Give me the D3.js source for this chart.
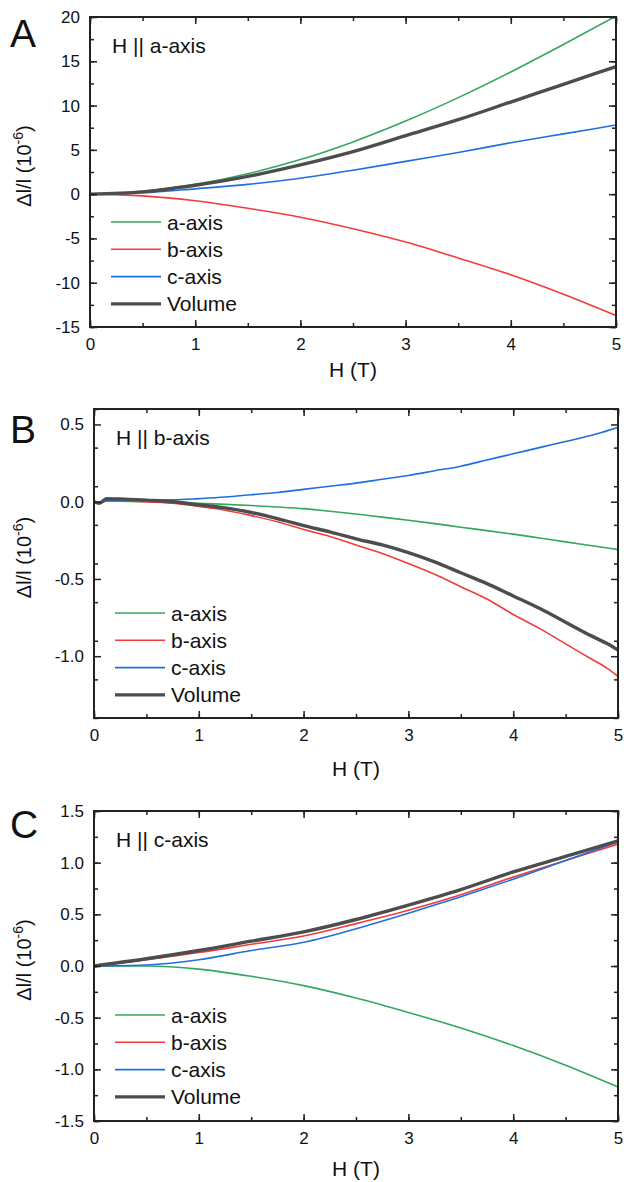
<!DOCTYPE html>
<html>
<head>
<meta charset="utf-8">
<script src="https://cdn.jsdelivr.net/npm/d3@7"></script>
<style>
  body { margin: 0; background: #fff; }
  svg text { font-family: "Liberation Sans", Arial, sans-serif; fill: #111; }
</style>
</head>
<body>
<div id="chart"></div>
<script>
// field values (T)
const fieldA = [0, 0.5, 1, 1.5, 2, 2.5, 3, 3.5, 4, 4.5, 5];

// Panel A: H || a-axis
const aAxisA = [0, 0.3, 1.1, 2.3, 3.9, 5.9, 8.25, 10.9, 13.8, 16.9, 20.1];
const bAxisA = [0, -0.2, -0.75, -1.6, -2.6, -3.9, -5.4, -7.2, -9.1, -11.3, -13.7];
const cAxisA = [0, 0.15, 0.6, 1.1, 1.8, 2.7, 3.7, 4.7, 5.8, 6.8, 7.8];
const volA = [0, 0.25, 1.0, 2.0, 3.3, 4.8, 6.6, 8.4, 10.4, 12.4, 14.4];

// Panel B: H || b-axis
const fieldB = [0, 0.05, 0.12, 0.25, 0.5, 0.75, 1, 1.25, 1.5, 1.75, 2, 2.25, 2.5, 2.75,
  3, 3.25, 3.5, 3.75, 4, 4.25, 4.5, 4.75, 4.9, 5];
const aAxisB = [0, -0.005, 0.005, 0.003, 0, -0.005, -0.01, -0.017, -0.025, -0.034, -0.045, -0.062, -0.08, -0.1,
  -0.12, -0.142, -0.165, -0.187, -0.21, -0.235, -0.26, -0.285, -0.3, -0.31];
const bAxisB = [0, -0.01, 0.005, 0.005, 0, -0.01, -0.03, -0.055, -0.09, -0.13, -0.18, -0.225, -0.28, -0.335,
  -0.4, -0.47, -0.55, -0.63, -0.73, -0.82, -0.92, -1.02, -1.08, -1.13];
const cAxisB = [0, -0.01, 0.01, 0.01, 0.01, 0.012, 0.02, 0.03, 0.045, 0.06, 0.08, 0.1, 0.12, 0.145,
  0.17, 0.2, 0.23, 0.27, 0.31, 0.35, 0.39, 0.43, 0.46, 0.48];
const volB = [0, -0.01, 0.02, 0.018, 0.01, 0, -0.02, -0.04, -0.07, -0.11, -0.155, -0.195, -0.24, -0.28,
  -0.33, -0.39, -0.46, -0.53, -0.61, -0.69, -0.78, -0.87, -0.92, -0.96];

// Panel C: H || c-axis
const fieldC = [0, 0.5, 1, 1.5, 2, 2.5, 3, 3.5, 4, 4.5, 5];
const aAxisC = [0, 0.0, -0.03, -0.1, -0.19, -0.31, -0.45, -0.6, -0.77, -0.96, -1.17];
const bAxisC = [0, 0.06, 0.13, 0.21, 0.29, 0.41, 0.54, 0.69, 0.86, 1.02, 1.18];
const cAxisC = [0, 0.01, 0.06, 0.15, 0.23, 0.36, 0.51, 0.67, 0.84, 1.02, 1.2];
const volC = [0, 0.07, 0.15, 0.24, 0.33, 0.45, 0.59, 0.74, 0.91, 1.06, 1.21];

const seriesNames = ["a-axis", "b-axis", "c-axis", "Volume"];
const seriesColors = ["#33a760", "#f03c3c", "#1f6fdf", "#4d4d4d"];
const seriesWidths = [1.6, 1.6, 1.6, 3.4];

const yTicksA = [-15, -10, -5, 0, 5, 10, 15, 20];
const yTicksB = [-1.0, -0.5, 0.0, 0.5];
const yTicksC = [-1.5, -1.0, -0.5, 0.0, 0.5, 1.0, 1.5];
const xTicks = [0, 1, 2, 3, 4, 5];

// plain hyphen for negative tick labels, like the original figure
const fmtInt = d => d3.format("d")(d).replace("\u2212", "-");
const fmtOne = d => d3.format(".1f")(d).replace("\u2212", "-");

const panels = [
  { letter: "A", note: "H || a-axis", x: fieldA, ys: [aAxisA, bAxisA, cAxisA, volA],
    left: 90, right: 616, top: 17, bottom: 327, ydom: [-15, 20], yticks: yTicksA, minor: 2.5, fmt: fmtInt,
    letterY: 47, legendY: 222, titleY: 377 },
  { letter: "B", note: "H || b-axis", x: fieldB, ys: [aAxisB, bAxisB, cAxisB, volB],
    left: 94, right: 618, top: 409, bottom: 718, ydom: [-1.4, 0.6], yticks: yTicksB, minor: 0.25, fmt: fmtOne,
    letterY: 443, legendY: 613, titleY: 776 },
  { letter: "C", note: "H || c-axis", x: fieldC, ys: [aAxisC, bAxisC, cAxisC, volC],
    left: 94, right: 618, top: 811, bottom: 1121, ydom: [-1.5, 1.5], yticks: yTicksC, minor: 0.25, fmt: fmtOne,
    letterY: 838, legendY: 1015, titleY: 1176 }
];

const svg = d3.select("#chart").append("svg")
  .attr("width", 624)
  .attr("height", 1182);

panels.forEach(p => drawPanel(p));

function drawPanel(p) {
  const x = d3.scaleLinear().domain([0, 5]).range([p.left, p.right]);
  const y = d3.scaleLinear().domain(p.ydom).range([p.bottom, p.top]);
  const g = svg.append("g");

  // clip so curves stay inside the frame
  const clipId = "clip" + p.letter;
  g.append("clipPath").attr("id", clipId)
    .append("rect")
    .attr("x", p.left).attr("y", p.top)
    .attr("width", p.right - p.left).attr("height", p.bottom - p.top);

  const line = d3.line()
    .x(d => x(d[0]))
    .y(d => y(d[1]))
    .curve(d3.curveMonotoneX);

  // curves (volume drawn last, on top)
  p.ys.forEach((vals, i) => {
    g.append("path")
      .datum(p.x.map((h, k) => [h, vals[k]]))
      .attr("clip-path", "url(#" + clipId + ")")
      .attr("fill", "none")
      .attr("stroke", seriesColors[i])
      .attr("stroke-width", seriesWidths[i])
      .attr("stroke-linejoin", "round")
      .attr("d", line);
  });

  // minor ticks
  const xMinor = d3.range(0, 5.01, 0.5);
  const yMinor = d3.range(p.ydom[0], p.ydom[1] + 1e-6, p.minor);

  const axisX = d3.axisBottom(x).tickValues(xTicks).tickSize(-7).tickPadding(11).tickFormat(fmtInt);
  const axisXMinor = d3.axisBottom(x).tickValues(xMinor).tickSize(-4).tickFormat("");
  const axisXTop = d3.axisTop(x).tickValues(xTicks).tickSize(-7).tickFormat("");
  const axisXTopMinor = d3.axisTop(x).tickValues(xMinor).tickSize(-4).tickFormat("");
  const axisY = d3.axisLeft(y).tickValues(p.yticks).tickSize(-7).tickPadding(10).tickFormat(p.fmt);
  const axisYMinor = d3.axisLeft(y).tickValues(yMinor).tickSize(-4).tickFormat("");
  const axisYRight = d3.axisRight(y).tickValues(p.yticks).tickSize(-7).tickFormat("");
  const axisYRightMinor = d3.axisRight(y).tickValues(yMinor).tickSize(-4).tickFormat("");

  const styleAxis = sel => {
    sel.select(".domain").remove();
    sel.selectAll("line").attr("stroke", "#222").attr("stroke-width", 1.5);
    sel.selectAll("text").style("font-size", "17px").style("font-family", "'Liberation Sans', Arial, sans-serif").attr("fill", "#111");
  };

  g.append("g").attr("transform", "translate(0," + p.bottom + ")").call(axisXMinor).call(styleAxis);
  g.append("g").attr("transform", "translate(0," + p.bottom + ")").call(axisX).call(styleAxis);
  g.append("g").attr("transform", "translate(0," + p.top + ")").call(axisXTopMinor).call(styleAxis);
  g.append("g").attr("transform", "translate(0," + p.top + ")").call(axisXTop).call(styleAxis);
  g.append("g").attr("transform", "translate(" + p.left + ",0)").call(axisYMinor).call(styleAxis);
  g.append("g").attr("transform", "translate(" + p.left + ",0)").call(axisY).call(styleAxis);
  g.append("g").attr("transform", "translate(" + p.right + ",0)").call(axisYRightMinor).call(styleAxis);
  g.append("g").attr("transform", "translate(" + p.right + ",0)").call(axisYRight).call(styleAxis);

  // frame
  g.append("rect")
    .attr("x", p.left).attr("y", p.top)
    .attr("width", p.right - p.left).attr("height", p.bottom - p.top)
    .attr("fill", "none")
    .attr("stroke", "#222")
    .attr("stroke-width", 2);

  // panel letter
  g.append("text")
    .attr("x", 10).attr("y", p.letterY)
    .style("font-size", "39px")
    .text(p.letter);

  // annotation
  g.append("text")
    .attr("x", p.left + 22).attr("y", p.top + 36)
    .style("font-size", "21px")
    .text(p.note);

  // axis titles
  g.append("text")
    .attr("x", (p.left + p.right) / 2).attr("y", p.titleY)
    .attr("text-anchor", "middle")
    .style("font-size", "21px")
    .text("H (T)");

  const yl = g.append("text")
    .attr("transform", "translate(31," + ((p.top + p.bottom) / 2 - 6) + ") rotate(-90)")
    .attr("text-anchor", "middle")
    .style("font-size", "20px");
  yl.append("tspan").text("\u0394l/l (10");
  yl.append("tspan").attr("dy", -8).style("font-size", "14px").text("-6");
  yl.append("tspan").attr("dy", 8).text(")");

  // legend
  const lg = g.append("g").attr("transform", "translate(" + (p.left + 21) + "," + p.legendY + ")");
  seriesNames.forEach((name, i) => {
    const row = lg.append("g").attr("transform", "translate(0," + (i * 27.3) + ")");
    row.append("line")
      .attr("x1", 0).attr("x2", 50)
      .attr("stroke", seriesColors[i])
      .attr("stroke-width", seriesWidths[i]);
    row.append("text")
      .attr("x", 56).attr("y", 7.5)
      .style("font-size", "21px")
      .text(name);
  });
}
</script>
</body>
</html>
